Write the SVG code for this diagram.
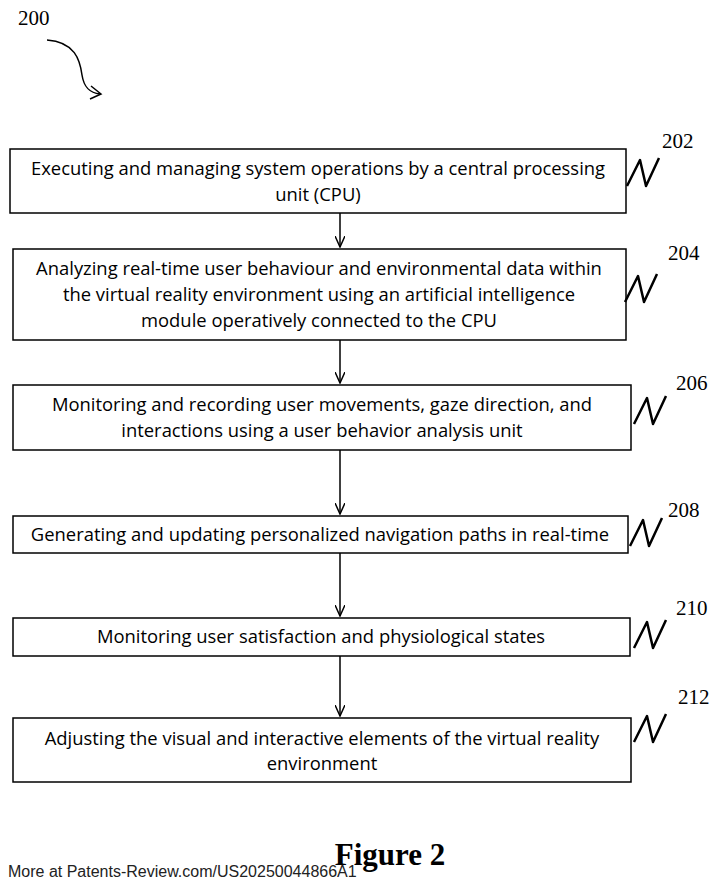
<svg xmlns="http://www.w3.org/2000/svg" width="721" height="888" viewBox="0 0 721 888">
<style>
.box{fill:#fff;stroke:#000;stroke-width:1.5}
.t{font-family:"Open Sans",sans-serif;font-size:18.4px;text-anchor:middle;fill:#000}
.n{font-family:"Liberation Serif",serif;font-size:21px;fill:#000}
.sq{fill:none;stroke:#000;stroke-width:2.5;stroke-linejoin:round}
.c{stroke:#000;stroke-width:1.5;fill:none}
</style>
<defs><marker id="a" markerWidth="12" markerHeight="10" refX="11" refY="5" orient="auto" markerUnits="userSpaceOnUse"><path d="M0,0 L11,5 L0,10" fill="none" stroke="#000" stroke-width="1.5"/></marker></defs>
<rect width="721" height="888" fill="#fff"/>
<text class="n" x="18" y="25">200</text>
<path d="M47,40 C75,42 80,60 82,75 C84,88 90,93 100,94" class="c" stroke-width="2.5"/>
<path d="M91,86 L101,94 L90,99" class="c" stroke-width="2.5"/>
<g id="connectors">
<line class="c" x1="340" y1="213" x2="340" y2="247" marker-end="url(#a)"/>
<line class="c" x1="340" y1="340" x2="340" y2="383" marker-end="url(#a)"/>
<line class="c" x1="340" y1="450" x2="340" y2="514" marker-end="url(#a)"/>
<line class="c" x1="340" y1="553" x2="340" y2="616" marker-end="url(#a)"/>
<line class="c" x1="340" y1="656" x2="340" y2="716" marker-end="url(#a)"/>
</g>
<g id="n202"><rect class="box" x="10" y="149" width="616" height="64"/>
<text class="t" x="318" y="175">Executing and managing system operations by a central processing</text>
<text class="t" x="318" y="201">unit (CPU)</text>
<path class="sq" d="M627,186 L640,160 L646,186 L659,158"/><text class="n" x="662" y="148">202</text></g>
<g id="n204"><rect class="box" x="13" y="249" width="613" height="91"/>
<text class="t" x="319" y="275">Analyzing real-time user behaviour and environmental data within</text>
<text class="t" x="319" y="301">the virtual reality environment using an artificial intelligence</text>
<text class="t" x="319" y="327">module operatively connected to the CPU</text>
<path class="sq" d="M625,302 L638,276 L644,302 L657,274"/><text class="n" x="668" y="260">204</text></g>
<g id="n206"><rect class="box" x="13" y="385" width="618" height="65"/>
<text class="t" x="322" y="411">Monitoring and recording user movements, gaze direction, and</text>
<text class="t" x="322" y="437">interactions using a user behavior analysis unit</text>
<path class="sq" d="M634,424 L647,398 L653,424 L666,396"/><text class="n" x="676" y="390">206</text></g>
<g id="n208"><rect class="box" x="13" y="516" width="615" height="37"/>
<text class="t" x="320" y="541">Generating and updating personalized navigation paths in real-time</text>
<path class="sq" d="M630,546 L643,520 L649,546 L662,518"/><text class="n" x="668" y="517">208</text></g>
<g id="n210"><rect class="box" x="13" y="618" width="617" height="38"/>
<text class="t" x="321" y="643">Monitoring user satisfaction and physiological states</text>
<path class="sq" d="M634,648 L647,622 L653,648 L666,620"/><text class="n" x="676" y="615">210</text></g>
<g id="n212"><rect class="box" x="13" y="718" width="618" height="64"/>
<text class="t" x="322" y="745">Adjusting the visual and interactive elements of the virtual reality</text>
<text class="t" x="322" y="770">environment</text>
<path class="sq" d="M634,742 L647,716 L653,742 L666,714"/><text class="n" x="678" y="704">212</text></g>
<text x="390" y="865" font-family="Liberation Serif,serif" font-size="31" font-weight="bold" text-anchor="middle">Figure 2</text>
<text x="8" y="877" font-family="Liberation Sans,sans-serif" font-size="16" fill="#222">More at Patents-Review.com/US20250044866A1</text>
</svg>
